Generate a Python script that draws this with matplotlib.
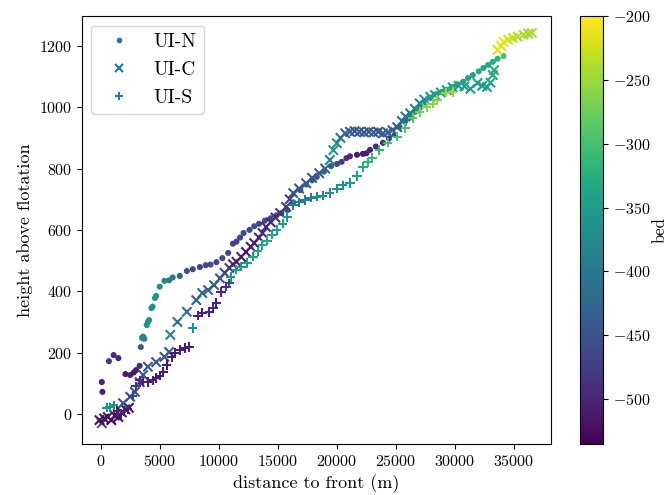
import numpy as np
import matplotlib
matplotlib.use("Agg")
import matplotlib.pyplot as plt
from matplotlib.lines import Line2D

plt.rcParams['font.family'] = 'serif'
plt.rcParams['font.serif'] = ['cmr10', 'DejaVu Serif']
plt.rcParams['mathtext.fontset'] = 'cm'
plt.rcParams['axes.formatter.use_mathtext'] = True
plt.rcParams['font.size'] = 11.5

# UI-N (dots): distance (m), height above flotation, bed
n_dist = [100, 150, 700, 1100, 1500, 2100, 2500, 2800, 3000, 3300, 3400, 3500, 3600, 3700,
          3900, 4000, 4100, 4300, 4400, 4600, 4700, 5000, 5400, 5800, 6100, 6700, 7300, 7800,
          8400, 8900, 9300, 9800, 10300, 10800, 11200, 11500, 11800, 12100, 12600, 13000,
          13400, 13900, 14400, 14900, 15300, 15800, 16300, 16900, 17400, 17900, 18300, 18900,
          19500, 20000, 20400, 20800, 21100, 21700, 22200, 22500, 22800, 23300, 23900, 24400,
          24900, 25300, 25800, 26200, 26600, 27000, 27500, 27900, 28400, 28900, 29300, 29800,
          30200, 30700, 31100, 31500, 32000, 32400, 32800, 33200, 33600, 34100]
n_hgt = [104, 72, 172, 192, 182, 130, 127, 135, 143, 157, 218, 248, 252, 245,
         290, 300, 306, 345, 350, 378, 385, 415, 434, 436, 445, 450, 466, 472,
         479, 485, 487, 495, 508, 525, 555, 562, 575, 590, 600, 612,
         620, 630, 638, 648, 655, 665, 690, 730, 748, 762, 773, 790,
         808, 815, 822, 834, 840, 845, 848, 850, 861, 872, 884, 898,
         910, 935, 955, 968, 985, 998, 1015, 1030, 1042, 1050, 1056, 1066,
         1075, 1083, 1095, 1105, 1117, 1128, 1138, 1148, 1158, 1167]
n_bed = [-500, -505, -480, -490, -500, -510, -505, -515, -510, -490, -440, -380, -380, -385,
         -370, -370, -365, -370, -365, -360, -365, -375, -380, -385, -400, -430, -450, -460,
         -465, -460, -460, -465, -460, -465, -470, -470, -465, -460, -460, -455,
         -460, -455, -455, -460, -455, -450, -445, -440, -440, -445, -440, -440,
         -445, -460, -470, -490, -500, -510, -510, -505, -500, -495, -490, -480,
         -470, -440, -420, -400, -390, -380, -375, -370, -365, -360, -350, -350,
         -345, -345, -340, -340, -335, -335, -330, -330, -320, -300]

# UI-C (crosses)
c_dist = [100, -100, 300, 600, 900, 1200, 1500, 1800, 2100, 2400, 1900, 2500, 2900, 3300,
          3600, 4000, 4700, 5400, 5800, 5900, 6500, 7300, 8100, 8600, 9100, 9600, 10100,
          10500, 10900, 11200, 11500, 11900, 12300, 12700, 13000, 13400, 13700, 14000, 14400,
          14800, 15200, 15700, 16000, 16300, 16800, 17400, 17900, 18500, 19000, 19400, 19700,
          20000, 20300, 20700, 21100, 21500, 21900, 22300, 22700, 23100, 23500, 23900, 24300,
          24700, 25100, 25500, 25800, 26200, 26600, 27000, 27400, 27900, 28300, 28800, 29300,
          29800, 30300, 30800, 31300, 31900, 32300, 32700, 33000, 33200, 33300, 33600, 33900,
          34100, 34500, 34900, 35300, 35800, 36200, 36500]
c_hgt = [-30, -20, -15, -10, -20, -5, -10, 5, 15, 20, 35, 56, 72, 104,
         127, 154, 169, 186, 202, 258, 300, 333, 371, 394, 404, 420, 442,
         460, 476, 488, 496, 512, 528, 545, 557, 575, 590, 610, 625,
         640, 655, 675, 700, 720, 735, 752, 770, 785, 800, 828, 860,
         883, 900, 915, 920, 922, 920, 918, 920, 918, 920, 915, 918,
         925, 935, 955, 970, 980, 995, 1013, 1025, 1034, 1040, 1048, 1056,
         1065, 1070, 1068, 1060, 1079, 1070, 1066, 1080, 1105, 1121, 1187, 1200,
         1213, 1220, 1226, 1230, 1236, 1240, 1242]
c_bed = [-450, -520, -525, -520, -530, -520, -525, -510, -500, -505, -450, -445, -450, -455,
         -440, -445, -440, -445, -440, -380, -410, -420, -430, -425, -430, -440, -445,
         -460, -480, -495, -505, -510, -510, -505, -510, -505, -500, -495, -500,
         -495, -490, -480, -470, -450, -445, -440, -445, -440, -430, -380, -360,
         -360, -400, -430, -440, -440, -440, -445, -440, -440, -445, -440, -440,
         -440, -430, -420, -410, -400, -395, -380, -370, -360, -350, -345, -340,
         -345, -345, -350, -350, -345, -350, -345, -340, -335, -330, -220, -215,
         -210, -220, -230, -240, -240, -250, -245]

# UI-S (plus)
s_dist = [500, 800, 1100, 1400, 1700, 2000, 2300, 2700, 3000, 3300, 3600, 4000, 4400, 4700,
          5000, 5300, 5600, 6000, 6300, 6700, 7100, 7500, 7800, 8200, 8600, 9200, 9500, 9800,
          10200, 10600, 10900, 11000, 11500, 11900, 12400, 12900, 13300, 13700, 14100, 14500,
          14900, 15400, 15800, 16300, 16800, 17300, 17800, 18300, 18800, 19400, 20000, 20500,
          21100, 21700, 22200, 22600, 23000, 23600, 24300, 25100, 25800, 26400, 27000, 27600,
          28100, 28500, 29200, 29800]
s_hgt = [20, 22, 28, 10, 0, 10, 15, 60, 90, 110, 105, 104, 110, 117,
         125, 137, 160, 186, 200, 209, 215, 218, 280, 320, 330, 332, 345, 362,
         398, 415, 426, 447, 470, 480, 492, 513, 530, 551, 565, 585,
         600, 620, 642, 681, 690, 698, 705, 708, 712, 720, 735, 745,
         753, 776, 805, 820, 835, 861, 884, 904, 932, 965, 985, 1001,
         1012, 1024, 1047, 1050]
s_bed = [-360, -370, -360, -500, -510, -500, -505, -470, -480, -495, -500, -505, -500, -505,
         -510, -505, -510, -505, -510, -505, -510, -505, -370, -500, -505, -500, -495, -500,
         -495, -490, -470, -360, -350, -345, -350, -340, -335, -330, -335, -340,
         -345, -350, -355, -380, -390, -395, -390, -380, -380, -375, -370, -365,
         -360, -345, -330, -320, -310, -310, -300, -300, -295, -285, -270, -265,
         -260, -260, -255, -255]

fig = plt.figure(figsize=(6.7, 4.95), dpi=100)
ax = fig.add_axes([0.122, 0.103, 0.700, 0.865])
cax = fig.add_axes([0.866, 0.103, 0.034, 0.865])

vmin, vmax = -535, -200
sc = ax.scatter(n_dist, n_hgt, c=n_bed, marker='.', s=45, cmap='viridis', vmin=vmin, vmax=vmax)
ax.scatter(c_dist, c_hgt, c=c_bed, marker='x', s=45, cmap='viridis', vmin=vmin, vmax=vmax)
ax.scatter(s_dist, s_hgt, c=s_bed, marker='+', s=45, cmap='viridis', vmin=vmin, vmax=vmax)

ax.set_xlim(-1600, 38100)
ax.set_ylim(-98, 1298)
ax.set_xticks(np.arange(0, 35001, 5000))
ax.set_yticks(np.arange(0, 1201, 200))
ax.set_xlabel('distance to front (m)', fontsize=13)
ax.set_ylabel('height above flotation', fontsize=13)

handles = [Line2D([], [], ls='none', marker='.', color='C0', markersize=6),
           Line2D([], [], ls='none', marker='x', color='C0', markersize=6, mew=1.5),
           Line2D([], [], ls='none', marker='+', color='C0', markersize=6, mew=1.5)]
ax.legend(handles, ['UI-N', 'UI-C', 'UI-S'], loc='upper left', fontsize=14)

cb = fig.colorbar(sc, cax=cax)
cb.set_ticks(np.arange(-500, -199, 50))
cb.set_label('bed', fontsize=12, labelpad=1)

fig.savefig('out.png')
